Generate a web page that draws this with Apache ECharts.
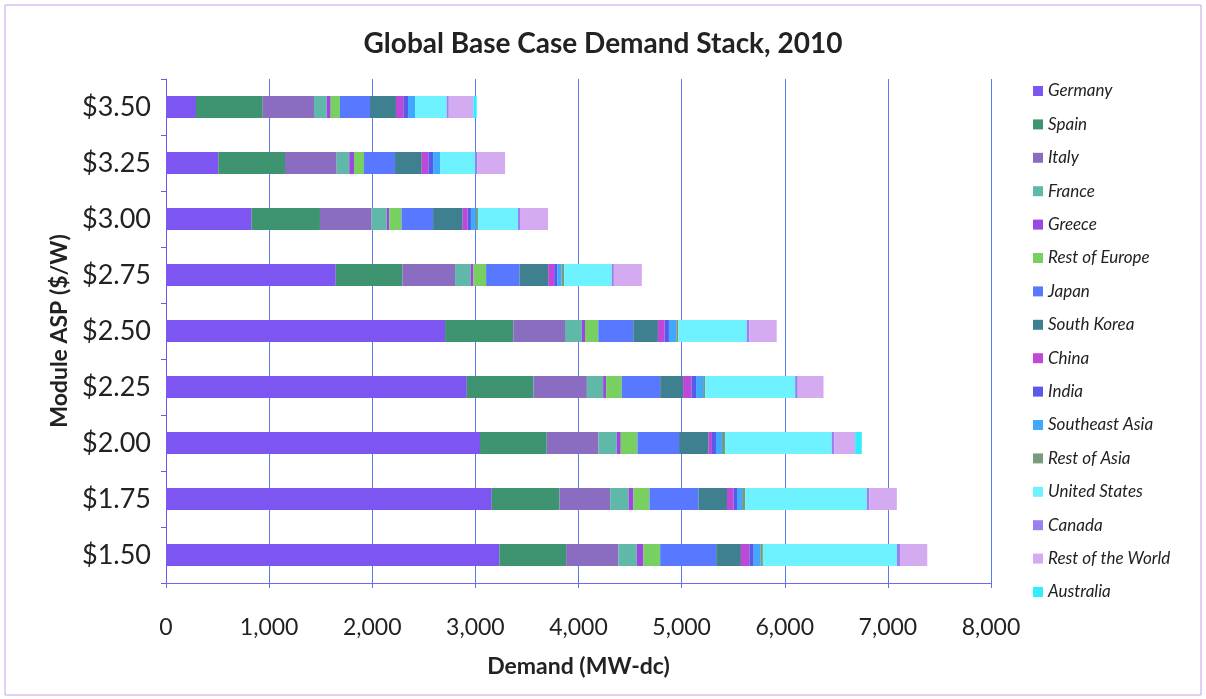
<!DOCTYPE html>
<html>
<head>
<meta charset="utf-8">
<script src="https://cdn.jsdelivr.net/npm/echarts@6/dist/echarts.min.js"></script>
<style>
  html, body { margin: 0; padding: 0; background: #fff; }
  #chart { width: 1206px; height: 699px; }
</style>
</head>
<body>
<div id="chart"></div>
<script>
// price points, top to bottom
const prices = ['$3.50', '$3.25', '$3.00', '$2.75', '$2.50', '$2.25', '$2.00', '$1.75', '$1.50']

// demand by region (MW-dc), same order as prices
const germany      = [291, 507, 831, 1646, 2706, 2917, 3045, 3159, 3233]
const spain        = [647, 647, 662, 646, 662, 646, 647, 656, 647]
const italy        = [497, 501, 501, 511, 501, 518, 501, 492, 507]
const france       = [123, 122, 145, 150, 162, 158, 178, 178, 178]
const greece       = [39, 46, 25, 28, 32, 29, 39, 48, 65]
const restEurope   = [90, 97, 120, 123, 129, 152, 161, 155, 162]
const japan        = [291, 301, 306, 323, 339, 372, 404, 475, 543]
const southKorea   = [252, 259, 287, 279, 239, 222, 287, 277, 240]
const china        = [71, 64, 48, 58, 65, 81, 32, 65, 81]
const india        = [46, 46, 32, 29, 42, 45, 39, 32, 43]
const seAsia       = [68, 68, 48, 42, 71, 68, 58, 49, 64]
const restAsia     = [0, 0, 20, 25, 20, 20, 30, 30, 25]
const unitedStates = [307, 339, 388, 463, 663, 873, 1035, 1180, 1300]
const canada       = [20, 20, 20, 20, 25, 25, 25, 25, 30]
const restWorld    = [238, 271, 271, 271, 266, 250, 201, 266, 264]
const australia    = [33, 0, 0, 0, 0, 0, 65, 0, 0]

const xTicks = [0, 1000, 2000, 3000, 4000, 5000, 6000, 7000, 8000]

const regions = [
  ['Germany', germany, '#7d55f0'],
  ['Spain', spain, '#3e9470'],
  ['Italy', italy, '#8a6cc0'],
  ['France', france, '#5fb8a8'],
  ['Greece', greece, '#9a48e0'],
  ['Rest of Europe', restEurope, '#78d060'],
  ['Japan', japan, '#5878ff'],
  ['South Korea', southKorea, '#3f8090'],
  ['China', china, '#c048d8'],
  ['India', india, '#5a5ae8'],
  ['Southeast Asia', seAsia, '#40a8ff'],
  ['Rest of Asia', restAsia, '#7a9a80'],
  ['United States', unitedStates, '#6ff2ff'],
  ['Canada', canada, '#9a80f0'],
  ['Rest of the World', restWorld, '#d4aaf0'],
  ['Australia', australia, '#30eeff']
]

const font = 'Lato, "Open Sans", sans-serif'
const chart = echarts.init(document.getElementById('chart'))

chart.setOption({
  backgroundColor: '#fff',
  animation: false,
  textStyle: { fontFamily: font },
  title: {
    text: 'Global Base Case Demand Stack, 2010',
    left: 'center',
    top: 25,
    textStyle: { fontSize: 28, fontWeight: 'bold', color: '#222', fontFamily: font }
  },
  graphic: [{
    type: 'rect',
    shape: { x: 5, y: 5, width: 1196, height: 690 },
    style: { fill: 'none', stroke: '#c8a0e8', lineWidth: 1 },
    silent: true
  }],
  legend: {
    orient: 'vertical',
    left: 1028,
    top: 76,
    itemWidth: 10,
    itemHeight: 10,
    itemGap: 13.4,
    itemStyle: { borderWidth: 0 },
    icon: 'rect',
    textStyle: { fontSize: 17, fontStyle: 'italic', color: '#222', lineHeight: 20, fontFamily: font },
    data: regions.map(r => r[0])
  },
  grid: { left: 166, right: 215, top: 79, bottom: 116 },
  xAxis: {
    type: 'value',
    min: xTicks[0],
    max: xTicks[xTicks.length - 1],
    interval: 1000,
    name: 'Demand (MW-dc)',
    nameLocation: 'middle',
    nameGap: 72,
    nameTextStyle: { fontSize: 23, fontWeight: 'bold', color: '#222' },
    axisLine: { show: true, lineStyle: { color: '#6a6af0' } },
    axisTick: { show: true, length: 5, lineStyle: { color: '#6a6af0' } },
    axisLabel: {
      fontSize: 23, color: '#222', margin: 33,
      formatter: v => v.toLocaleString('en-US')
    },
    splitLine: { show: true, lineStyle: { color: '#5a7af0', width: 1 } }
  },
  yAxis: {
    type: 'category',
    inverse: true,
    data: prices,
    name: 'Module ASP ($/W)',
    nameLocation: 'middle',
    nameGap: 82,
    nameTextStyle: { fontSize: 23, fontWeight: 'bold', color: '#222' },
    axisLine: { show: true, lineStyle: { color: '#6a5af0' } },
    axisTick: { show: true, length: 5, lineStyle: { color: '#6a5af0' } },
    axisLabel: { fontSize: 27, color: '#222', margin: 15 }
  },
  series: regions.map(([name, values, color]) => ({
    name,
    type: 'bar',
    stack: 'demand',
    barWidth: 22,
    data: values,
    itemStyle: { color },
    emphasis: { disabled: true }
  }))
})
</script>
</body>
</html>
